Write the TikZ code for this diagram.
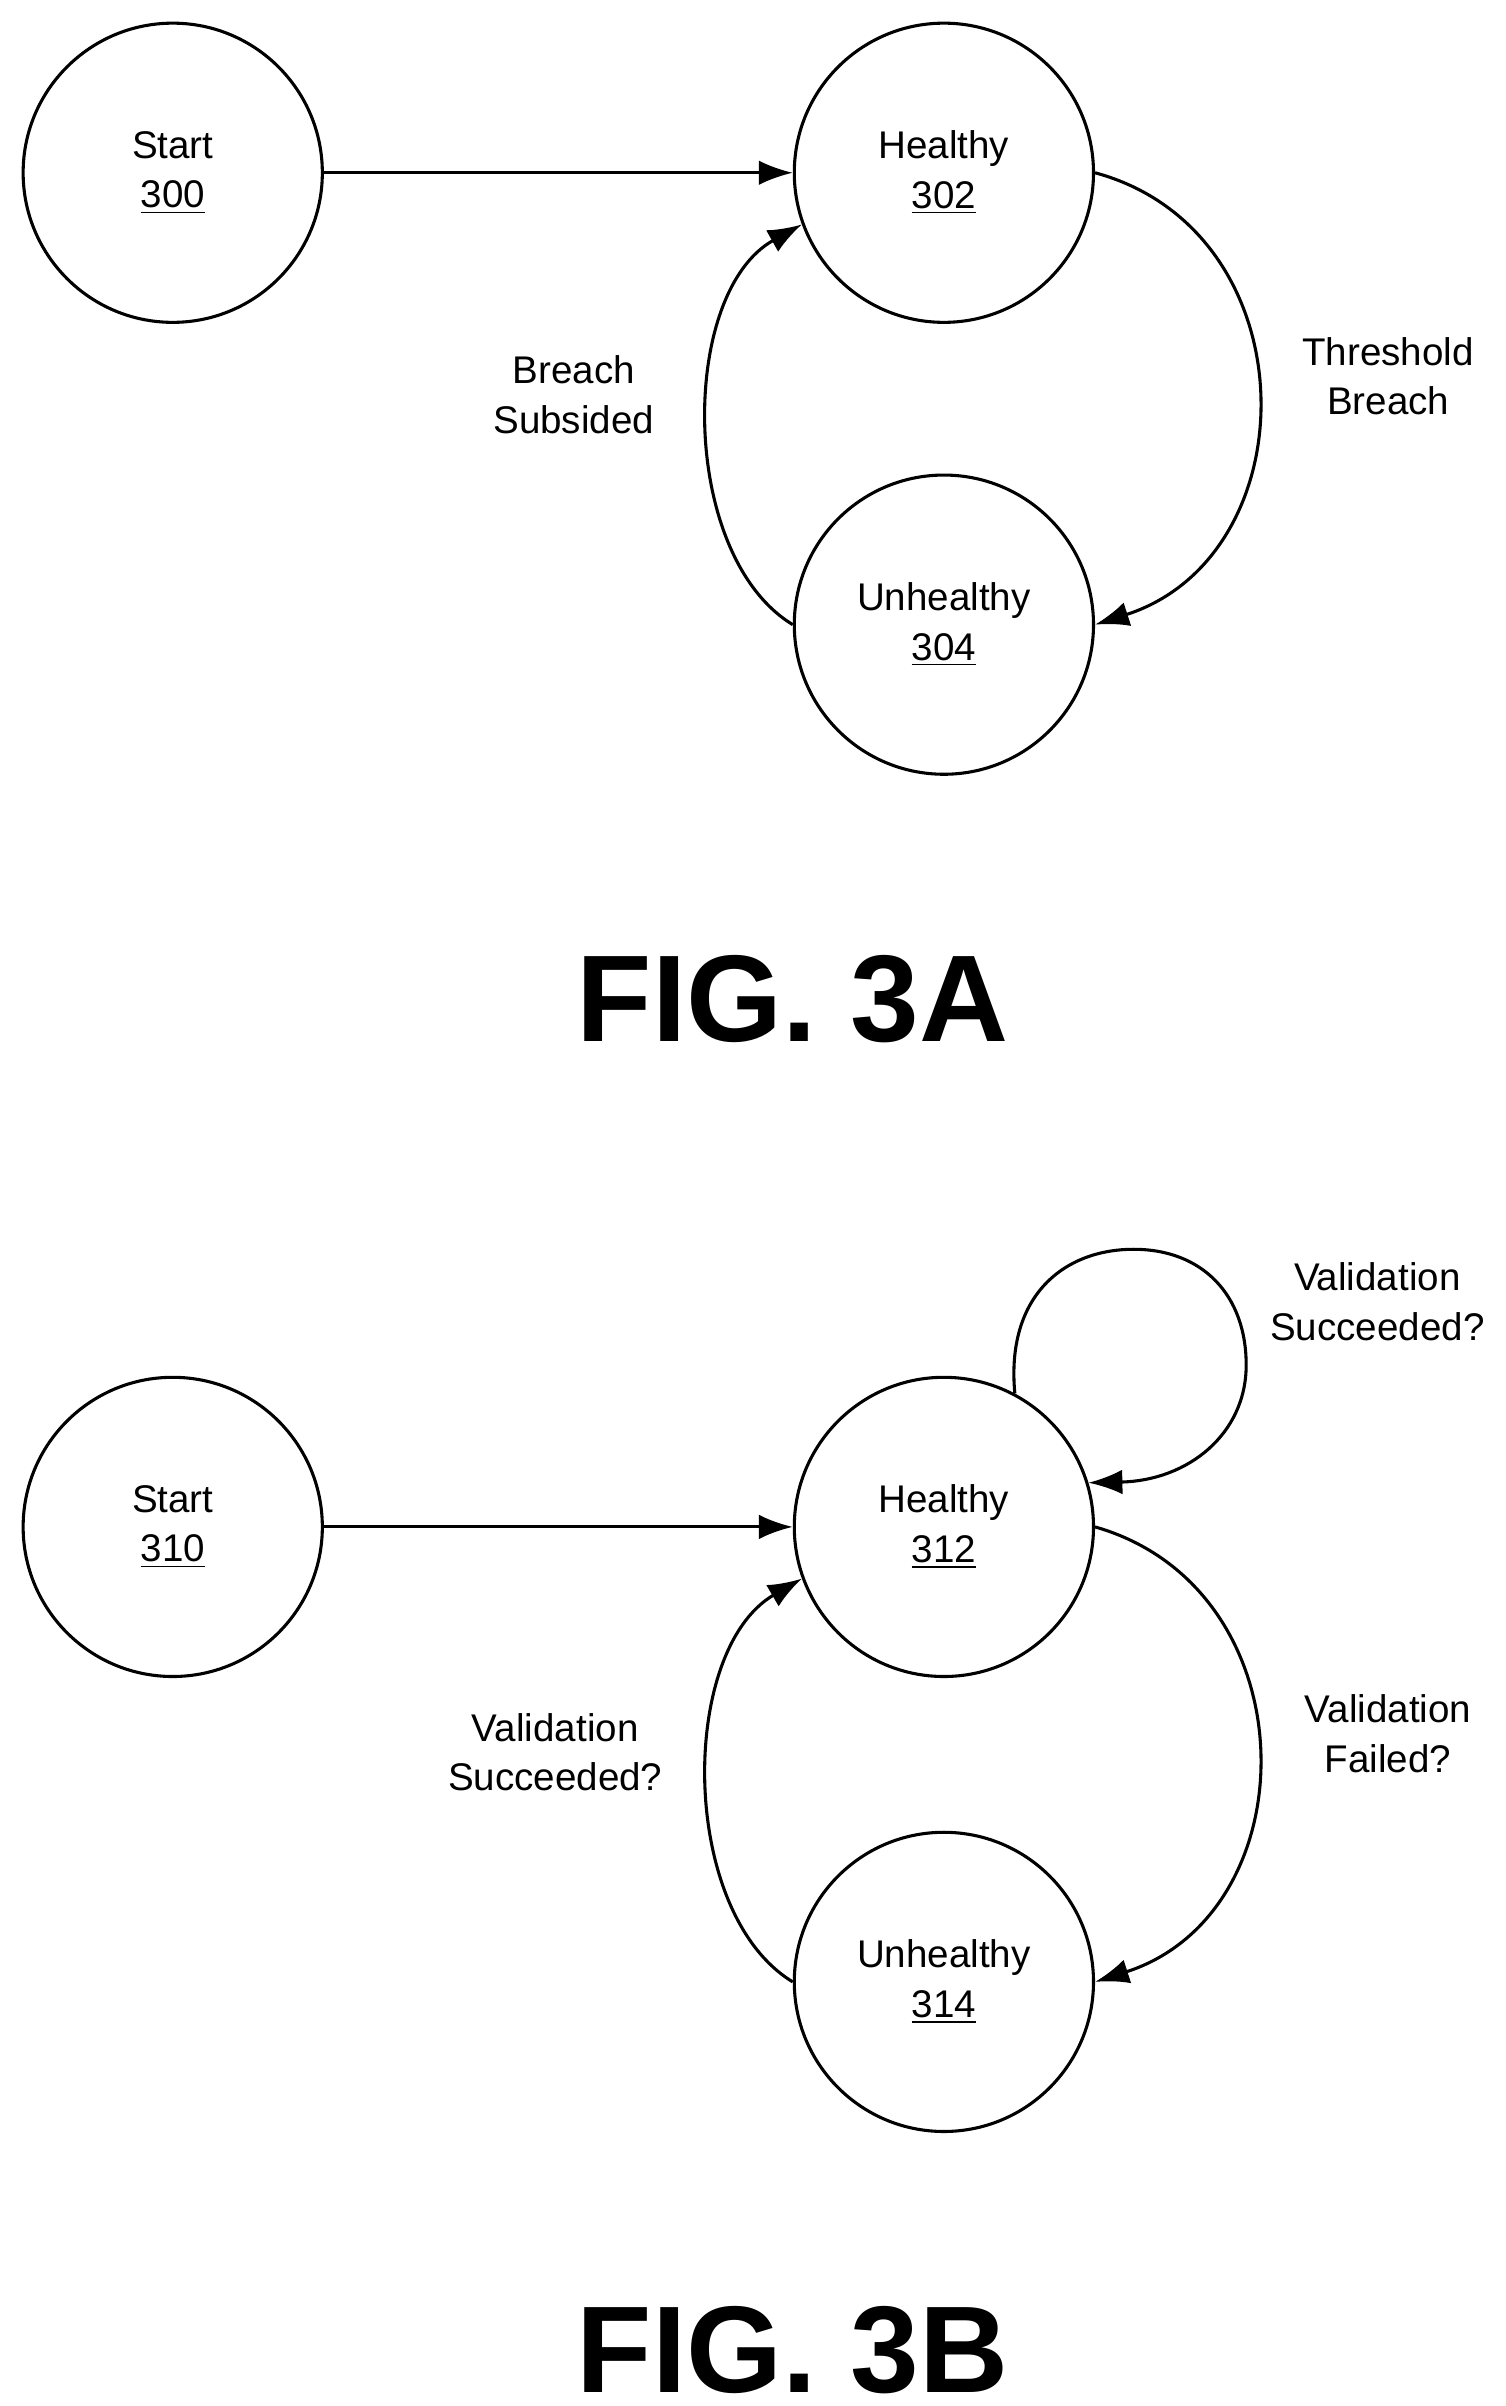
\documentclass[tikz,border=0pt]{standalone}
\usepackage{fontspec}
\setmainfont{Liberation Sans}
\usetikzlibrary{arrows.meta}
\begin{document}
\begin{tikzpicture}[x=0.5pt,y=-0.5pt,
  st/.style={circle,draw,line width=1pt,minimum size=97pt,inner sep=0pt,align=center,font=\fontsize{12.5}{16}\selectfont},
  lb/.style={align=center,font=\fontsize{12.5}{16}\selectfont},
  fig/.style={font=\fontsize{40}{46}\selectfont\bfseries},
  ar/.style={line width=1pt,-{Latex[length=11pt,width=8pt]}}]
\useasboundingbox (0,0) rectangle (976,1560);
% FIG 3A
\node[st] (s0) at (112,112) {Start\\\underline{300}};
\node[st] (h0) at (612,112) {Healthy\\\underline{302}};
\node[st] (u0) at (612,405) {Unhealthy\\\underline{304}};
\draw[ar] (s0) -- (h0);
\draw[ar] (h0.east) .. controls (850,150) and (850,360) .. (u0.east);
\draw[ar] (u0.west) .. controls (440,360) and (440,190) .. (h0.-160);
\node[lb] (l1) at (372,256) {Breach\\Subsided};
\node[lb] (l2) at (900,244) {Threshold\\Breach};
\node[fig] (f1) at (514,648) {FIG. 3A};
% FIG 3B
\node[st] (s1) at (112,990) {Start\\\underline{310}};
\node[st] (h1) at (612,990) {Healthy\\\underline{312}};
\node[st] (u1) at (612,1285) {Unhealthy\\\underline{314}};
\draw[ar] (s1) -- (h1);
\draw[ar] (h1.east) .. controls (850,1030) and (850,1240) .. (u1.east);
\draw[ar] (u1.west) .. controls (440,1240) and (440,1070) .. (h1.-160);
\coordinate (lt) at (735,810);
\coordinate (lr) at (808,885);
\draw[ar] (h1.62) .. controls (652,840) and (690,810) .. (lt) .. controls (780,810) and (808,840) .. (lr) .. controls (808,930) and (770,960) .. (h1.17);
\node[lb] (l3) at (893,844) {Validation\\Succeeded?};
\node[lb] (l4) at (360,1136) {Validation\\Succeeded?};
\node[lb] (l5) at (900,1124) {Validation\\Failed?};
\node[fig] (f2) at (514,1524) {FIG. 3B};
\end{tikzpicture}
\end{document}
